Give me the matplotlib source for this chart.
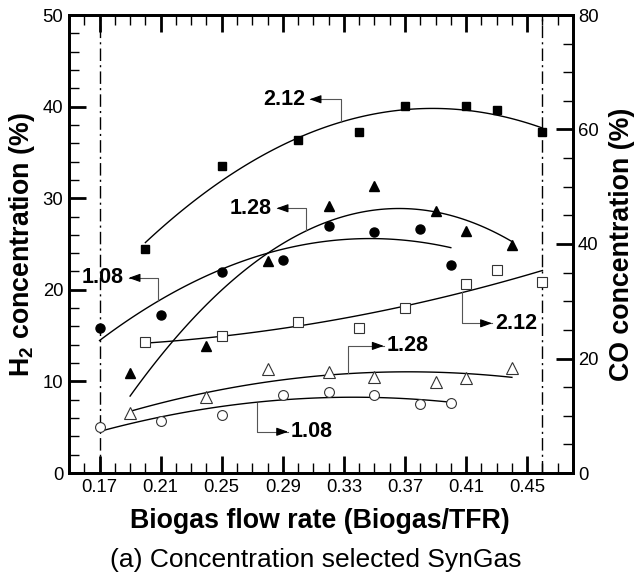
import numpy as np
import matplotlib
matplotlib.use("Agg")
import matplotlib.pyplot as plt
from matplotlib.ticker import MultipleLocator, FixedLocator

plt.rcParams['font.family'] = ['Liberation Sans', 'DejaVu Sans']
plt.rcParams['mathtext.fontset'] = 'custom'
plt.rcParams['mathtext.rm'] = 'Liberation Sans'
plt.rcParams['mathtext.bf'] = 'Liberation Sans:bold'

# H2 concentration (left axis, filled markers)
x_h2_212 = [0.20, 0.25, 0.30, 0.34, 0.37, 0.41, 0.43, 0.46]
h2_212 = [24.5, 33.5, 36.3, 37.2, 40.1, 40.1, 39.6, 37.2]
x_h2_128 = [0.19, 0.24, 0.28, 0.32, 0.35, 0.39, 0.41, 0.44]
h2_128 = [10.9, 13.9, 23.1, 29.2, 31.3, 28.6, 26.4, 24.9]
x_h2_108 = [0.17, 0.21, 0.25, 0.29, 0.32, 0.35, 0.38, 0.40]
h2_108 = [15.8, 17.2, 21.9, 23.3, 27.0, 26.3, 26.6, 22.7]

# CO concentration (right axis, open markers)
x_co_212 = [0.20, 0.25, 0.30, 0.34, 0.37, 0.41, 0.43, 0.46]
co_212 = [22.8, 24.0, 26.3, 25.3, 28.9, 33.0, 35.5, 33.3]
x_co_128 = [0.19, 0.24, 0.28, 0.32, 0.35, 0.39, 0.41, 0.44]
co_128 = [10.4, 13.3, 18.1, 17.7, 16.8, 15.9, 16.6, 18.3]
x_co_108 = [0.17, 0.21, 0.25, 0.29, 0.32, 0.35, 0.38, 0.40]
co_108 = [8.1, 9.0, 10.1, 13.7, 14.15, 13.6, 12.05, 12.3]

x_ticks = [0.17, 0.21, 0.25, 0.29, 0.33, 0.37, 0.41, 0.45]
x_limits = [0.17, 0.46]  # dash-dot range lines

# label leaders: (label, curve point, corner, arrow tip)
h2_labels = [("2.12", (0.3278, 38.3), (0.3278, 40.8), 0.3075),
             ("1.28", (0.3055, 26.5), (0.3055, 28.9), 0.2859),
             ("1.08", (0.2084, 18.8), (0.2084, 21.3), 0.1890)]
co_labels = [("2.12", (0.4074, 31.7), (0.4074, 26.15), 0.4270),
             ("1.28", (0.3328, 17.4), (0.3328, 22.2), 0.3561),
             ("1.08", (0.2732, 12.3), (0.2732, 7.2), 0.2935)]

fig = plt.figure(figsize=(6.37, 5.81), dpi=100)
ax = fig.add_axes([69/637, 1-473/581, 504/637, 458/581])
ax2 = ax.twinx()


def fit_line(axis, xs, ys):
    c = np.polyfit(xs, ys, 2)
    xx = np.linspace(min(xs), max(xs), 100)
    axis.plot(xx, np.polyval(c, xx), color='black', lw=1.0, zorder=2)


ms = {'s': 6.3, '^': 7.6, 'o': 6.5}
for xs, ys, m in [(x_h2_212, h2_212, 's'), (x_h2_128, h2_128, '^'), (x_h2_108, h2_108, 'o')]:
    ax.plot(xs, ys, m, color='black', ms=ms[m], zorder=3)
    fit_line(ax, xs, ys)

for xs, ys, m in [(x_co_212, co_212, 's'), (x_co_128, co_128, '^'), (x_co_108, co_108, 'o')]:
    ax2.plot(xs, ys, m, mfc='white', mec='#333333', mew=0.8, ms=ms[m] + 0.6, zorder=3)
    fit_line(ax2, xs, ys)

for xv in x_limits:
    ax.axvline(xv, color='black', lw=1.0, ls=(0, (9, 3, 1.5, 3)), zorder=1)


def leader(axis, lab, p0, p1, tip, side):
    axis.plot([p0[0], p1[0], tip], [p0[1], p1[1], p1[1]], color='#555555', lw=0.8, zorder=2)
    d = 0.004 if side == 'left' else -0.004
    axis.annotate('', xy=(tip, p1[1]), xytext=(tip + d, p1[1]),
                  arrowprops=dict(arrowstyle='-|>,head_length=0.7,head_width=0.25',
                                  color='black', lw=0.8, shrinkA=0, shrinkB=0))
    if side == 'left':
        axis.text(tip - 0.003, p1[1], lab, ha='right', va='center',
                  fontsize=15.5, fontweight='bold')
    else:
        axis.text(tip + 0.0018, p1[1], lab, ha='left', va='center',
                  fontsize=15.5, fontweight='bold')


for lab, p0, p1, tip in h2_labels:
    leader(ax, lab, p0, p1, tip, 'left')
for lab, p0, p1, tip in co_labels:
    leader(ax2, lab, p0, p1, tip, 'right')

ax.set_xlim(0.15, 0.48)
ax.set_ylim(0, 50)
ax2.set_ylim(0, 80)

ax.xaxis.set_major_locator(FixedLocator(x_ticks))
ax.set_xticklabels(["%.2f" % v for v in x_ticks])
ax.xaxis.set_minor_locator(MultipleLocator(0.01))
ax.yaxis.set_major_locator(MultipleLocator(10))
ax.yaxis.set_minor_locator(MultipleLocator(2))
ax2.yaxis.set_major_locator(MultipleLocator(20))
ax2.yaxis.set_minor_locator(MultipleLocator(5))

ax.tick_params(axis='x', which='both', direction='in', top=True, bottom=True)
ax.tick_params(axis='y', which='both', direction='in', right=False)
ax.tick_params(which='major', length=12, width=2.0, labelsize=13.3, pad=4)
ax.tick_params(which='minor', length=7, width=1.0)
ax2.tick_params(axis='y', which='both', direction='in')
ax2.tick_params(which='major', length=12, width=2.0, labelsize=13.3, pad=3.5)
ax2.tick_params(which='minor', length=7, width=1.0)

for a in (ax, ax2):
    for s in a.spines.values():
        s.set_linewidth(2.0)

fig.text(320/637, 1-521/581, "Biogas flow rate (Biogas/TFR)", ha='center', va='center',
         fontsize=19.3, fontweight='bold')
fig.text(316/637, 1-560/581, "(a) Concentration selected SynGas", ha='center', va='center',
         fontsize=19)
fig.text(22/637, 1-245/581, r"H$_\mathbf{2}$ concentration (%)", ha='center', va='center',
         rotation=90, fontsize=19.3, fontweight='bold')
fig.text(622/637, 1-244/581, "CO concentration (%)", ha='center', va='center',
         rotation=90, fontsize=19.3, fontweight='bold')

fig.savefig('out.png', dpi=100, facecolor='white')
